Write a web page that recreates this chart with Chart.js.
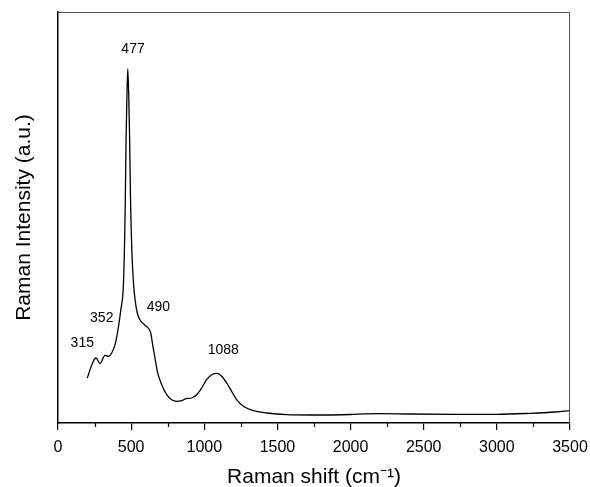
<!DOCTYPE html>
<html>
<head>
<meta charset="utf-8">
<script src="https://cdn.jsdelivr.net/npm/chart.js@4.4.1/dist/chart.umd.min.js"></script>
<style>
  html, body { margin: 0; padding: 0; background: #fff; }
  #wrap { width: 590px; height: 487px; }
</style>
</head>
<body>
<div id="wrap"><canvas id="ramanChart"></canvas></div>
<script>
// Raman spectrum (wavenumber in cm-1, intensity in arbitrary units)
const shift = [200, 241, 260, 287, 321, 344, 367, 390, 412, 428, 447, 455, 460, 466, 471, 477, 484, 489, 496, 505, 516,
  528, 542, 560, 595, 617, 634, 647, 663, 679, 709, 743, 777, 811, 845, 875, 914, 948, 982, 1016, 1051, 1088, 1119,
  1153, 1187, 1221, 1267, 1335, 1427, 1563, 1723, 2000, 2100, 2201, 2400, 2725, 2999, 3227, 3400, 3500];
const intensity = [45, 61.7, 65, 59.3, 67.7, 66.7, 70, 78.3, 95, 111.7, 138, 180, 222, 290, 325, 354, 325, 290, 222, 172, 140,
  122, 110, 103.3, 97.7, 95, 90, 78.3, 65, 51.7, 38.3, 28.3, 23.3, 21.7, 22.3, 24.3, 25, 28.3, 35, 43.3, 48.3, 49.7, 46.7,
  40, 31.7, 23.3, 16.7, 12.3, 10, 8.3, 8, 8.5, 9.2, 9.4, 9, 8.7, 8.7, 9.7, 11, 12.3];

// peak annotations
const peakLabels = ['315', '352', '477', '490', '1088'];
const peakLabelX = [166, 299, 513, 686, 1130];
const peakLabelY = [80, 105, 374, 116, 73];

const xTicks = [0, 500, 1000, 1500, 2000, 2500, 3000, 3500];
const minorTicks = [250, 750, 1250, 1750, 2250, 2750, 3250];

const fontFamily = '"Liberation Sans", Arial, sans-serif';

const annotate = {
  id: 'annotate',
  afterDraw(chart) {
    const { ctx, chartArea: a, scales } = chart;
    ctx.save();
    // frame on top and right
    ctx.strokeStyle = '#555';
    ctx.lineWidth = 1;
    ctx.beginPath();
    ctx.moveTo(a.left, a.top + 0.5);
    ctx.lineTo(a.right - 0.5, a.top + 0.5);
    ctx.lineTo(a.right - 0.5, a.bottom);
    ctx.stroke();
    // minor ticks
    ctx.strokeStyle = '#000';
    ctx.lineWidth = 1.2;
    ctx.beginPath();
    minorTicks.forEach(v => {
      const px = Math.round(scales.x.getPixelForValue(v)) + 0.5;
      ctx.moveTo(px, a.bottom);
      ctx.lineTo(px, a.bottom + 4);
    });
    ctx.stroke();
    // peak labels
    ctx.fillStyle = '#000';
    ctx.font = '14px ' + fontFamily;
    ctx.textAlign = 'center';
    ctx.textBaseline = 'middle';
    peakLabels.forEach((t, i) => {
      ctx.fillText(t, scales.x.getPixelForValue(peakLabelX[i]), scales.y.getPixelForValue(peakLabelY[i]));
    });
    ctx.restore();
  }
};

new Chart(document.getElementById('ramanChart'), {
  type: 'line',
  data: {
    datasets: [{
      data: shift.map((x, i) => ({ x: x, y: intensity[i] })),
      borderColor: '#000',
      borderWidth: 1.3,
      pointRadius: 0,
      fill: false,
      cubicInterpolationMode: 'monotone'
    }]
  },
  options: {
    responsive: true,
    maintainAspectRatio: false,
    animation: false,
    layout: { padding: { top: 12, right: 20, left: 0, bottom: 0 } },
    plugins: { legend: { display: false }, tooltip: { enabled: false } },
    scales: {
      x: {
        type: 'linear',
        min: 0,
        max: 3500,
        afterBuildTicks: scale => { scale.ticks = xTicks.map(v => ({ value: v })); },
        afterFit: scale => {
          scale.height = 64;
          // let the last tick label run past the edge of the canvas
          scale.paddingLeft = 0;
          scale.paddingRight = 0;
        },
        grid: { drawOnChartArea: false, drawTicks: true, tickLength: 7, color: '#000', lineWidth: 1.2 },
        border: { display: true, color: '#000', width: 1.5 },
        ticks: {
          color: '#000',
          padding: 8,
          maxRotation: 0,
          callback: v => String(v),
          font: { family: fontFamily, size: 16 }
        },
        title: {
          display: true,
          text: 'Raman shift (cm\u207B\u00B9)',
          color: '#000',
          padding: { top: 0, bottom: 0 },
          font: { family: fontFamily, size: 21, lineHeight: 0.9 }
        }
      },
      y: {
        min: 0,
        max: 411,
        afterFit: scale => { scale.width = 58; },
        grid: { display: false },
        border: { display: true, color: '#000', width: 1.5 },
        ticks: { display: false },
        title: {
          display: true,
          text: 'Raman Intensity (a.u.)',
          color: '#000',
          padding: { top: 12, bottom: 0 },
          font: { family: fontFamily, size: 21 }
        }
      }
    }
  },
  plugins: [annotate]
});
</script>
</body>
</html>
